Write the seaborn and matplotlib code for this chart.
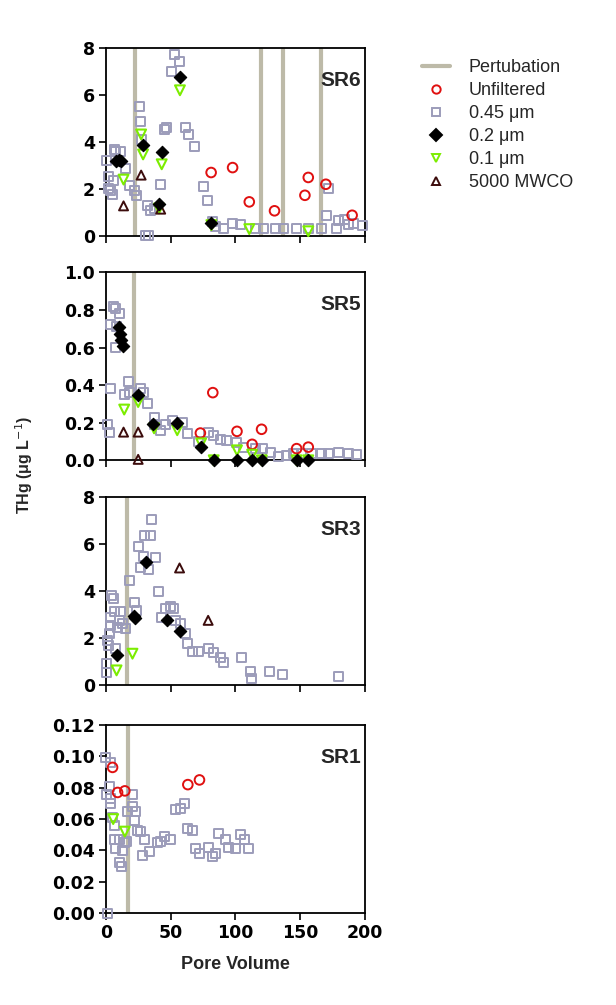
import numpy as np
import pandas as pd
import matplotlib
matplotlib.use("Agg")
import matplotlib.pyplot as plt
from matplotlib.lines import Line2D
import seaborn as sns

# --- Data (pore volume, THg) ---
SITES = ["SR6", "SR5", "SR3", "SR1"]

pert_sr6 = [22.5, 120, 137, 166]
pert_sr5 = [21.8]
pert_sr3 = [16.2]
pert_sr1 = [17.4]

# SR6
sr6_unf_x = [81.3, 97.9, 110.8, 130.3, 156.4, 153.8, 170, 190.3]
sr6_unf_y = [2.71, 2.92, 1.46, 1.08, 2.50, 1.74, 2.21, 0.89]
sr6_045_x = [53.1, 57.2, 50.5, 26.2, 26.9, 27.4, 44.9, 46.7, 61.5, 64, 68.5,
             0.8, 6.4, 7.7, 11.5, 15.4, 5.9, 1.8, 1.8, 5.4, 3.8, 17.9, 21.8, 23.8,
             42.3, 32.1, 34.6, 37.2, 30.5, 33, 75.6, 78.2, 82, 84.6, 91, 98.2,
             103.8, 115.4, 121.8, 130.8, 137.2, 147.4, 156.4, 166.7, 170.5, 171.8,
             178.2, 179.5, 184.6, 187.2, 191, 198.7]
sr6_045_y = [7.74, 7.45, 7.02, 5.52, 4.89, 4.13, 4.54, 4.63, 4.63, 4.34, 3.83,
             3.23, 3.70, 3.59, 3.59, 2.88, 2.35, 2.52, 2.03, 1.77, 1.95, 2.17, 1.95, 1.74,
             2.21, 1.32, 1.11, 1.18, 0.02, 0.02, 2.10, 1.50, 0.61, 0.40, 0.33, 0.54,
             0.51, 0.33, 0.33, 0.33, 0.33, 0.33, 0.33, 0.33, 0.89, 2.03,
             0.33, 0.68, 0.72, 0.51, 0.54, 0.47]
sr6_02_x = [7.7, 10.0, 12.0, 28.7, 43.1, 56.9, 41.0, 81.5]
sr6_02_y = [3.20, 3.26, 3.22, 3.90, 3.59, 6.78, 1.35, 0.57]
sr6_01_x = [57.2, 27.2, 28.7, 43.1, 13.6, 41.0, 81.5, 110.8, 156.4]
sr6_01_y = [6.21, 4.33, 3.48, 3.06, 2.41, 1.18, 0.47, 0.30, 0.21]
sr6_5k_x = [27.2, 13.6, 42.3]
sr6_5k_y = [2.60, 1.29, 1.15]

# SR5
sr5_unf_x = [82.6, 73.0, 101.3, 113.0, 120.3, 147.4, 156.4]
sr5_unf_y = [0.36, 0.145, 0.154, 0.085, 0.165, 0.062, 0.07]
sr5_045_x = [5.9, 7.7, 10.3, 3.8, 8.5, 7.7, 3.8, 17.4, 14.1, 17.9, 26.4, 28.7,
             32.1, 37.2, 37.2, 42.3, 46.2, 51.3, 59, 62.8, 79.5, 83.3, 88.5, 93.1,
             101.3, 106.4, 115.4, 121.3, 126.9, 133.3, 139.7, 144.9, 151.3, 159,
             166.7, 171.8, 179.5, 187.2, 193.6, 1.3, 2.6, 71.8]
sr5_045_y = [0.82, 0.81, 0.78, 0.72, 0.71, 0.60, 0.38, 0.42, 0.35, 0.36, 0.38, 0.36,
             0.30, 0.23, 0.19, 0.16, 0.19, 0.21, 0.20, 0.145, 0.15, 0.133, 0.11, 0.106,
             0.097, 0.07, 0.062, 0.062, 0.044, 0.021, 0.027, 0.035, 0.035, 0.035,
             0.035, 0.035, 0.039, 0.035, 0.03, 0.19, 0.15, 0.10]
sr5_02_x = [10.3, 11.0, 11.8, 12.8, 24.9, 36.7, 55.1, 73.6, 83.3, 101.3, 113.0,
            120.5, 147.4, 156.4]
sr5_02_y = [0.71, 0.67, 0.64, 0.61, 0.35, 0.195, 0.20, 0.07, 0.0, 0.0, 0.0,
            0.0, 0.0, 0.0]
sr5_01_x = [14.1, 24.9, 37.2, 55.1, 73.6, 83.3, 101.3, 113.0, 120.5, 147.4, 156.4]
sr5_01_y = [0.27, 0.31, 0.17, 0.16, 0.09, 0.0, 0.053, 0.03, 0.0, 0.0, 0.0]
sr5_5k_x = [13.6, 24.9, 24.9]
sr5_5k_y = [0.15, 0.15, 0.005]

# SR3
sr3_unf_x = []
sr3_unf_y = []
sr3_045_x = [35.1, 30, 34.1, 25.1, 29.0, 38.5, 27, 32.6, 17.9, 41, 4.6, 5.9, 21.8,
             23.8, 6.4, 11.5, 3.3, 10.3, 12.8, 3.8, 9, 15.4, 2.6, 1.3, 1.8, 7.7,
             0.8, 0.8, 46.2, 50, 52, 43.1, 53.8, 57.7, 61.5, 63.3, 66.7, 71.8,
             79.5, 83.3, 88.5, 90.5, 104.4, 111.5, 112.8, 126.4, 136.7, 179.5]
sr3_045_y = [7.05, 6.38, 6.38, 5.91, 5.49, 5.43, 5.0, 4.94, 4.47, 4.01, 3.83, 3.69, 3.55,
             3.2, 3.15, 3.15, 2.91, 2.77, 2.62, 2.55, 2.48, 2.41, 2.2, 1.91, 1.7, 1.56,
             0.92, 0.57, 3.29, 3.34, 3.29, 2.91, 2.77, 2.62, 2.2, 1.8, 1.46, 1.46,
             1.56, 1.39, 1.18, 0.98, 1.2, 0.61, 0.28, 0.61, 0.47, 0.4]
sr3_02_x = [30.8, 21.3, 22.6, 47.4, 56.9, 8.5]
sr3_02_y = [5.25, 2.94, 2.88, 2.77, 2.30, 1.29]
sr3_01_x = [20.5, 8.2]
sr3_01_y = [1.35, 0.64]
sr3_5k_x = [56.9, 79.0]
sr3_5k_y = [5.0, 2.77]

# SR1
sr1_unf_x = [5.1, 9.0, 14.6, 63.3, 72.3]
sr1_unf_y = [0.093, 0.077, 0.078, 0.082, 0.085]
sr1_045_x = [0, 3.8, 2.6, 0.8, 3.8, 3.8, 5.1, 6.4, 6.4, 7.7, 10.3, 12.8, 14.1,
             10.3, 12.0, 16.2, 16.7, 20.5, 20.5, 22.6, 21.8, 24.4, 26.9, 29.5,
             28.2, 33.3, 39.7, 42.3, 44.9, 50, 53.8, 57.7, 60.8, 63.3, 67.2,
             69.2, 72.6, 79.5, 82.1, 84.6, 87.2, 92.3, 94.9, 100, 103.8, 106.9,
             110.3, 1.3]
sr1_045_y = [0.099, 0.096, 0.081, 0.076, 0.073, 0.070, 0.061, 0.056, 0.047, 0.041,
             0.047, 0.040, 0.045, 0.032, 0.030, 0.046, 0.065, 0.076, 0.068, 0.065,
             0.059, 0.053, 0.052, 0.047, 0.037, 0.039, 0.045, 0.046, 0.049, 0.047,
             0.066, 0.067, 0.070, 0.054, 0.053, 0.041, 0.038, 0.042, 0.036, 0.038,
             0.051, 0.047, 0.042, 0.041, 0.050, 0.047, 0.041, 0.0]
sr1_02_x = []
sr1_02_y = []
sr1_01_x = [5.6, 14.6]
sr1_01_y = [0.060, 0.052]
sr1_5k_x = []
sr1_5k_y = []

FRACTIONS = ["Unfiltered", "0.45 \u03bcm", "0.2 \u03bcm", "0.1 \u03bcm", "5000 MWCO"]
X_TICKS = [0, 50, 100, 150, 200]

# --- Styling ---
PERT_COLOR = "#bdbaa8"
STYLE = {
    "Unfiltered": dict(marker="o", fc="none", ec="#e01010", s=48, lw=1.4),
    "0.45 \u03bcm": dict(marker="s", fc="none", ec="#9c9cba", s=42, lw=1.4),
    "0.2 \u03bcm": dict(marker="D", fc="black", ec="black", s=40, lw=0.8),
    "0.1 \u03bcm": dict(marker="v", fc="none", ec="#7ced00", s=50, lw=1.5),
    "5000 MWCO": dict(marker="^", fc="none", ec="#3c0c0c", s=42, lw=1.4),
}
TICK_FONT = dict(fontfamily="DejaVu Sans", fontweight="bold", fontsize=12.5)


def site_frame(series):
    rows = []
    for frac, (xs, ys) in zip(FRACTIONS, series):
        for x, y in zip(xs, ys):
            rows.append({"pv": x, "thg": y, "fraction": frac})
    return pd.DataFrame(rows, columns=["pv", "thg", "fraction"])


panels = [
    ("SR6", pert_sr6, [(sr6_unf_x, sr6_unf_y), (sr6_045_x, sr6_045_y), (sr6_02_x, sr6_02_y),
                       (sr6_01_x, sr6_01_y), (sr6_5k_x, sr6_5k_y)], np.arange(0, 9, 2), "%d"),
    ("SR5", pert_sr5, [(sr5_unf_x, sr5_unf_y), (sr5_045_x, sr5_045_y), (sr5_02_x, sr5_02_y),
                       (sr5_01_x, sr5_01_y), (sr5_5k_x, sr5_5k_y)], np.arange(0, 1.01, 0.2), "%.1f"),
    ("SR3", pert_sr3, [(sr3_unf_x, sr3_unf_y), (sr3_045_x, sr3_045_y), (sr3_02_x, sr3_02_y),
                       (sr3_01_x, sr3_01_y), (sr3_5k_x, sr3_5k_y)], np.arange(0, 9, 2), "%d"),
    ("SR1", pert_sr1, [(sr1_unf_x, sr1_unf_y), (sr1_045_x, sr1_045_y), (sr1_02_x, sr1_02_y),
                       (sr1_01_x, sr1_01_y), (sr1_5k_x, sr1_5k_y)], np.arange(0, 0.121, 0.02), "%.2f"),
]

sns.set_style("ticks")
plt.rcParams["font.family"] = ["Liberation Sans", "DejaVu Sans"]

fig = plt.figure(figsize=(6.16, 10.05), dpi=100)
bottoms = [0.765, 0.542, 0.318, 0.0915]
left, width, height = 0.172, 0.420, 0.187

for i, (name, perts, series, yticks, fmt) in enumerate(panels):
    ax = fig.add_axes([left, bottoms[i], width, height])
    for xv in perts:
        ax.axvline(xv, color=PERT_COLOR, lw=3, zorder=1)
    df = site_frame(series)
    order = ["0.45 \u03bcm", "Unfiltered", "0.1 \u03bcm", "5000 MWCO", "0.2 \u03bcm"]
    for frac in order:
        sub = df[df["fraction"] == frac]
        if sub.empty:
            continue
        st = STYLE[frac]
        sns.scatterplot(data=sub, x="pv", y="thg", ax=ax, marker=st["marker"],
                        facecolor=st["fc"], edgecolor=st["ec"], s=st["s"],
                        linewidth=st["lw"], legend=False, zorder=3, clip_on=False)
    ax.set_xlim(0, 200)
    ax.set_ylim(yticks[0], yticks[-1])
    xlabels = [str(v) for v in X_TICKS] if i == 3 else [""] * len(X_TICKS)
    ax.set_xticks(X_TICKS, labels=xlabels, **TICK_FONT)
    ax.set_yticks(yticks, labels=[fmt % v for v in yticks], **TICK_FONT)
    ax.set_xlabel("")
    ax.set_ylabel("")
    for sp in ax.spines.values():
        sp.set_visible(True)
        sp.set_linewidth(1.3)
        sp.set_color("black")
    ax.tick_params(direction="out", length=5, width=1.2, colors="black", pad=3)
    ax.text(0.985, 0.83, name, transform=ax.transAxes, ha="right", va="center",
            fontsize=15, fontweight="bold")

fig.text(0.04, 0.537, "THg (\u03bcg L$^{-1}$)", rotation=90, ha="center", va="center",
         fontsize=11.5, fontweight="bold")
fig.text(0.382, 0.040, "Pore Volume", ha="center", va="center", fontsize=13,
         fontweight="bold")

handles = [Line2D([], [], color=PERT_COLOR, lw=3, label="Pertubation")]
for frac in FRACTIONS:
    st = STYLE[frac]
    handles.append(Line2D([], [], ls="none", marker=st["marker"], markersize=6,
                          markerfacecolor=st["fc"], markeredgecolor=st["ec"],
                          markeredgewidth=1.4, label=frac))
fig.legend(handles=handles, loc="upper left", bbox_to_anchor=(0.658, 0.957),
           frameon=False, fontsize=13, handlelength=1.6, handletextpad=1.0,
           labelspacing=0.33)

fig.savefig("out.png", dpi=100)
